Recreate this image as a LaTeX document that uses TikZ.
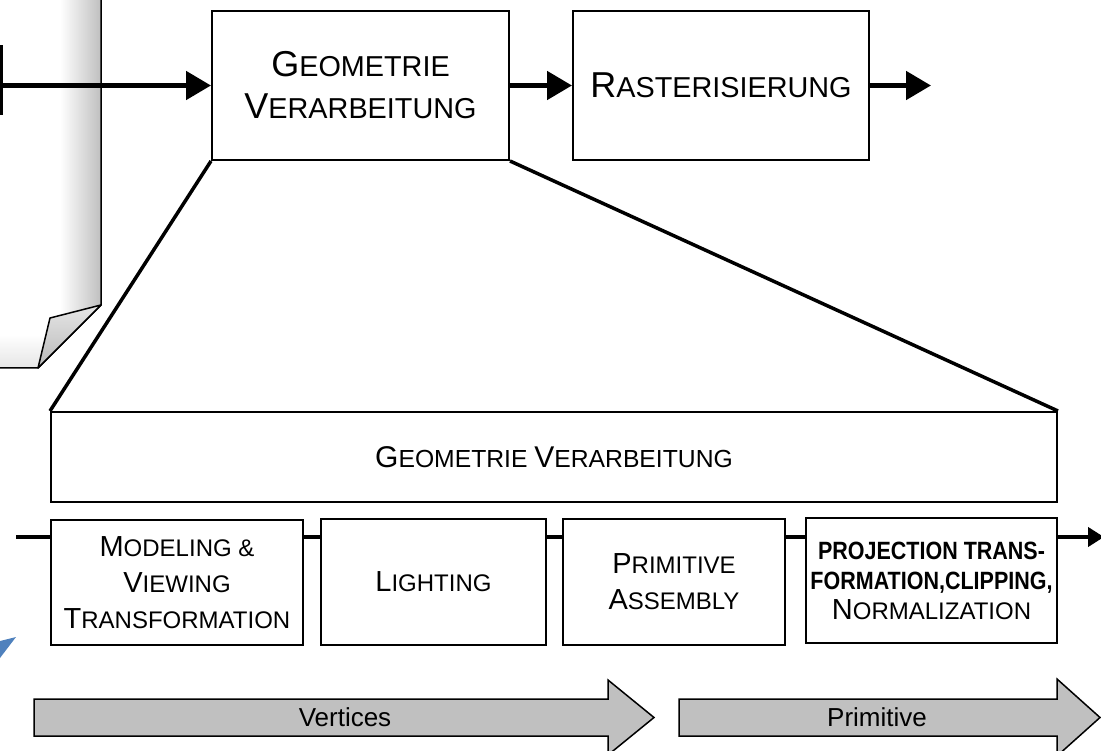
\documentclass[tikz,border=0pt]{standalone}
\usepackage{fontspec}
\setmainfont{Liberation Sans}
\newfontfamily\condb[FakeStretch=0.86]{Liberation Sans}
\usetikzlibrary{arrows.meta,calc}
\definecolor{arrgray}{RGB}{192,192,192}
\definecolor{bluec}{RGB}{79,129,189}
\begin{document}
\begin{tikzpicture}[x=1pt,y=-1pt,
  box/.style={draw,line width=2pt,fill=white,inner sep=0pt,align=center},
  topt/.style={font=\fontsize{28.8}{42}\selectfont\def\Lg{\fontsize{36}{42}\selectfont}},
  bigt/.style={font=\fontsize{24.7}{30}\selectfont\def\Lg{\fontsize{30}{30}\selectfont}},
  bott/.style={font=\fontsize{24}{36}\selectfont\def\Lg{\fontsize{29}{36}\selectfont}},
  projt/.style={font=\fontsize{24}{30}\selectfont\def\Lg{\fontsize{29}{30}\selectfont}},
  thickarrow/.style={line width=5pt,-{Triangle[length=25pt,width=28pt]}},
  fan/.style={line width=3.5pt},
  conn/.style={line width=4pt},
  garrow/.style={fill=arrgray,draw=black,line width=1.5pt,line join=miter},
  gtext/.style={font=\fontsize{26}{30}\selectfont,inner sep=0pt}
]
\useasboundingbox (0,0) rectangle (1101,751);

% paper sheet
\begin{scope}
  \clip (-5,-5) -- (101,-5) -- (101,305) -- (38,368) -- (-5,368) -- cycle;
  \fill[white] (-5,-5) rectangle (101,370);
  \shade[left color=white,right color=gray!50] (60,-5) rectangle (101,370);
  \shade[top color=white,bottom color=white,middle color=white,opacity=0] (0,0) rectangle (1,1);
  \shade[top color=white,bottom color=gray!25,opacity=0.8] (-5,335) rectangle (101,368);
\end{scope}
\draw[line width=1.5pt] (101,-5) -- (101,305) -- (38,368) -- (-5,368);
\shade[top color=gray!20,bottom color=gray!55,draw=black,line width=1.5pt,line join=round]
  (101,305) -- (50,318) -- (38,368) -- cycle;

% blue fragment
\fill[bluec] (0,641) -- (16,637) -- (0,658) -- cycle;

% top row
\node[fill=black,minimum width=6pt,minimum height=70pt,inner sep=0pt] (bar) at (0,80) {};
\node[box,topt,minimum width=297pt,minimum height=149pt] (geom) at (360.5,85.5)
  {{\Lg G}EOMETRIE\\{\Lg V}ERARBEITUNG};
\node[box,topt,minimum width=296pt,minimum height=149pt] (rast) at (721,85.5)
  {{\Lg R}ASTERISIERUNG};
\coordinate (outr) at (931,85.5);

\draw[thickarrow] (bar.center |- geom.west) -- (geom.west);
\draw[thickarrow] (geom.east) -- (rast.west);
\draw[thickarrow] (rast.east) -- (outr);

% big box
\node[box,bigt,minimum width=1006pt,minimum height=90pt] (big) at (554,457)
  {{\Lg G}EOMETRIE {\Lg V}ERARBEITUNG};
\draw[fan] (geom.south west) -- (big.north west);
\draw[fan] (geom.south east) -- (big.north east);

% stage boxes
\node[box,bott,minimum width=252pt,minimum height=125pt] (b1) at (177,582.5)
  {{\Lg M}ODELING \&\\{\Lg V}IEWING\\{\Lg T}RANSFORMATION};
\node[box,bott,minimum width=225pt,minimum height=126pt] (b2) at (433.5,582)
  {{\Lg L}IGHTING};
\node[box,bott,minimum width=222pt,minimum height=126pt] (b3) at (674,582)
  {{\Lg P}RIMITIVE\\{\Lg A}SSEMBLY};
\node[box,projt,minimum width=251pt,minimum height=125pt] (b4) at (931.5,580.5)
  {{\condb\bfseries\fontsize{25}{30}\selectfont PROJECTION TRANS-}\\
   {\condb\bfseries\fontsize{25}{30}\selectfont FORMATION,CLIPPING,}\\
   {\Lg N}ORMALIZATION};

\coordinate (c0) at (16,537);
\coordinate (cend) at (1104,537);
\draw[conn] (c0) -- (c0 -| b1.west);
\draw[conn] (c0 -| b1.east) -- (c0 -| b2.west);
\draw[conn] (c0 -| b2.east) -- (c0 -| b3.west);
\draw[conn] (c0 -| b3.east) -- (c0 -| b4.west);
\draw[conn,-{Triangle[length=16pt,width=19pt]}] (c0 -| b4.east) -- (cend);

% grey arrows
\draw[garrow] (34,699) -- (608,699) -- (608,680) -- (654,717.5) -- (608,755) -- (608,736) -- (34,736) -- cycle;
\node[gtext] (vert) at (345,717.5) {Vertices};
\draw[garrow] (679,699) -- (1057,699) -- (1057,679) -- (1100,717.5) -- (1057,756) -- (1057,736) -- (679,736) -- cycle;
\node[gtext] (prim) at (877,717.5) {Primitive};
\end{tikzpicture}
\end{document}
